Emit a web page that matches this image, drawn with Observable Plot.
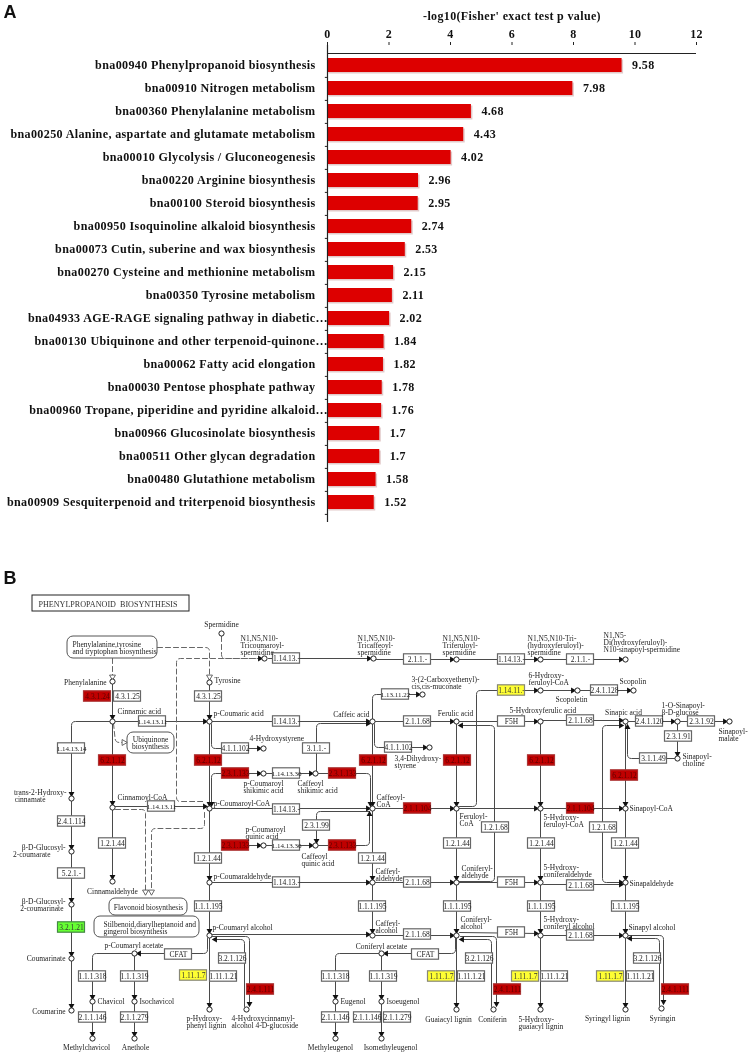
<!DOCTYPE html>
<html>
<head>
<meta charset="utf-8">
<script src="https://cdn.jsdelivr.net/npm/d3@7"></script>
<script src="https://cdn.jsdelivr.net/npm/@observablehq/plot@0.6"></script>
<style>
html,body{margin:0;padding:0;background:#fff}
svg{display:block;filter:blur(.35px)}
#a svg text{letter-spacing:.35px}
</style>
</head>
<body>
<div id="a"></div>
<div id="b"></div>
<script>
// ---------- Panel A ----------
const pathways = ["bna00940 Phenylpropanoid biosynthesis","bna00910 Nitrogen metabolism","bna00360 Phenylalanine metabolism","bna00250 Alanine, aspartate and glutamate metabolism","bna00010 Glycolysis / Gluconeogenesis","bna00220 Arginine biosynthesis","bna00100 Steroid biosynthesis","bna00950 Isoquinoline alkaloid biosynthesis","bna00073 Cutin, suberine and wax biosynthesis","bna00270 Cysteine and methionine metabolism","bna00350 Tyrosine metabolism","bna04933 AGE-RAGE signaling pathway in diabetic","bna00130 Ubiquinone and other terpenoid-quinone","bna00062 Fatty acid elongation","bna00030 Pentose phosphate pathway","bna00960 Tropane, piperidine and pyridine alkaloid","bna00966 Glucosinolate biosynthesis","bna00511 Other glycan degradation","bna00480 Glutathione metabolism","bna00909 Sesquiterpenoid and triterpenoid biosynthesis"];
const scores = [9.58,7.98,4.68,4.43,4.02,2.96,2.95,2.74,2.53,2.15,2.11,2.02,1.84,1.82,1.78,1.76,1.7,1.7,1.58,1.52];
const truncated = ["bna04933 AGE-RAGE signaling pathway in diabetic","bna00130 Ubiquinone and other terpenoid-quinone","bna00960 Tropane, piperidine and pyridine alkaloid"];
const xTicks = [0,2,4,6,8,10,12];

const rows = pathways.map((name,i)=>({name,score:scores[i]}));
const serif = "'Liberation Serif','Times New Roman',serif";

const chartA = Plot.plot({
  width:748,height:530,marginLeft:327,marginRight:52,marginTop:45,marginBottom:8,
  style:{fontFamily:serif,background:"#fff"},
  x:{domain:[0,12],axis:null},
  y:{domain:pathways,axis:null,paddingInner:0.37,paddingOuter:0.185},
  marks:[
    Plot.barX(rows,{x:"score",y:"name",fill:"#e2c9c9",dx:1.5,dy:1.5}),
    Plot.barX(rows,{x:"score",y:"name",fill:"#dd0000"}),
    Plot.ruleX([0],{stroke:"#222",strokeWidth:1.2}),
    Plot.ruleY([0],{y:()=>pathways[0],x1:0,x2:12,dy:-12,stroke:"#222",strokeWidth:1.2}),
    Plot.ruleY(pathways,{y:d=>d,x1:-0.07,x2:0,dy:11.9,stroke:"#222"}),
    Plot.axisX({anchor:"top",ticks:xTicks,tickSize:3,tickPadding:4,tickFormat:d=>String(d),fontSize:12,fontWeight:"bold",label:null,stroke:"#222",fill:"#111",dy:-1}),
    Plot.text(rows,{x:0,y:"name",text:"name",dx:-12,textAnchor:"end",fontSize:12.1,fontWeight:"bold",fill:"#111"}),
    Plot.text(truncated,{x:0,y:d=>d,text:()=>"…",dx:-12,textAnchor:"start",fontSize:12.1,fontWeight:"bold",fill:"#111"}),
    Plot.text(rows,{x:"score",y:"name",text:d=>String(d.score),dx:10,textAnchor:"start",fontSize:12,fontWeight:"bold",fill:"#111"}),
    Plot.text(["-log10(Fisher' exact test p value)"],{frameAnchor:"top",dy:-29,lineAnchor:"middle",fontSize:12,fontWeight:"bold",fill:"#111"}),
    Plot.text(["A"],{frameAnchor:"top-left",dx:-324,dy:-33,lineAnchor:"middle",textAnchor:"start",fontFamily:"'Liberation Sans',sans-serif",fontWeight:"bold",fontSize:18,fill:"#111"})
  ]
});
document.getElementById("a").append(chartA);

// ---------- Panel B ----------
const mapTitle = ["PHENYLPROPANOID  BIOSYNTHESIS"];
const titleBox = [[32,595,189,611]];
const pathwayBoxes = [[67,636,157,658],[127,732,174,753],[109,898,187,915],[94,916,199,937]];

const whiteEnzymes = [["1.14.13.-",286,658],["2.1.1.-",417,659],["1.14.13.-",511,659],["2.1.1.-",580,659],["1.13.11.22",395,694],["2.4.1.128",604,690],
["4.3.1.25",127,696],["4.3.1.25",208,696],["1.14.13.11",152,721],["1.14.13.-",286,721],["2.1.1.68",417,721],["F5H",511,721],["2.1.1.68",580,720],["2.4.1.120",649,721],["2.3.1.92",701,721],["2.3.1.91",678,736],
["1.14.13.14",71,748],["4.1.1.102",235,748],["3.1.1.-",316,748],["4.1.1.102",398,747],["3.1.1.49",653,758],["1.14.13.36",286,773],["1.14.13.11",161,806],["1.14.13.-",286,809],
["2.4.1.114",71,821],["2.3.1.99",316,825],["1.2.1.68",495,827],["1.2.1.68",603,827],["1.2.1.44",112,843],["1.14.13.36",286,845],["1.2.1.44",457,843],["1.2.1.44",541,843],["1.2.1.44",625,843],["1.2.1.44",208,858],["1.2.1.44",372,858],
["5.2.1.-",71,873],["1.14.13.-",286,882],["2.1.1.68",417,882],["F5H",511,882],["2.1.1.68",580,885],["1.1.1.195",208,906],["1.1.1.195",372,906],["1.1.1.195",457,906],["1.1.1.195",541,906],["1.1.1.195",625,906],
["2.1.1.68",417,934],["F5H",511,932],["2.1.1.68",580,935],["CFAT",178,954],["CFAT",425,954],["3.2.1.126",232,958],["3.2.1.126",479,958],["3.2.1.126",647,958],
["1.1.1.318",92,976],["1.1.1.319",134,976],["1.11.1.21",223,976],["1.1.1.318",335,976],["1.1.1.319",383,976],["1.11.1.21",471,976],["1.11.1.21",554,976],["1.11.1.21",640,976],
["2.1.1.146",92,1017],["2.1.1.279",134,1017],["2.1.1.146",335,1017],["2.1.1.146",367,1017],["2.1.1.279",397,1017]];
const redEnzymes = [["4.3.1.24",97,696],["6.2.1.12",112,760],["6.2.1.12",208,760],["6.2.1.12",373,760],["6.2.1.12",457,760],["6.2.1.12",541,760],["6.2.1.12",624,775],["2.3.1.133",235,773],["2.3.1.133",342,773],["2.3.1.133",235,845],["2.3.1.133",342,845],["2.1.1.104",417,808],["2.1.1.104",580,808],["2.4.1.111",260,989],["2.4.1.111",507,989],["2.4.1.111",675,989]];
const yellowEnzymes = [["1.14.11.-",511,690],["1.11.1.7",193,975],["1.11.1.7",441,976],["1.11.1.7",525,976],["1.11.1.7",610,976]];
const greenEnzymes = [["3.2.1.21",71,927]];

const compounds = [[221,633],[264,658],[373,658],[456,659],[540,659],[625,659],[422,694],[540,690],[577,690],[633,690],[112,681],[209,682],[112,721],[209,721],[372,721],[456,721],[540,721],[625,721],[677,721],[729,721],[263,748],[429,747],[677,758],[263,773],[315,773],[71,798],[112,807],[209,808],[372,808],[456,808],[540,808],[625,808],[263,845],[315,845],[71,851],[112,881],[209,882],[372,882],[456,882],[540,882],[625,882],[71,904],[209,935],[372,935],[456,935],[540,935],[625,935],[134,953],[381,953],[71,958],[92,1001],[134,1001],[335,1001],[381,1001],[209,1009],[246,1009],[456,1009],[493,1009],[540,1009],[625,1009],[661,1008],[71,1010],[92,1038],[134,1038],[335,1038],[381,1038]];

const labelsStart = [["N1,N5,N10-",240,638],["Tricoumaroyl-",240,645],["spermidine",240,652],["N1,N5,N10-",357,638],["Tricaffeoyl-",357,645],["spermidine",357,652],["N1,N5,N10-",442,638],["Triferuloyl-",442,645],["spermidine",442,652],["N1,N5,N10-Tri-",527,638],["(hydroxyferuloyl)-",527,645],["spermidine",527,652],["N1,N5-",603,635],["Di(hydroxyferuloyl)-",603,642],["N10-sinapoyl-spermidine",603,649],
["6-Hydroxy-",528,675],["feruloyl-CoA",528,682],["Scopolin",619,681],["Scopoletin",555,699],["3-(2-Carboxyethenyl)-",411,679],["cis,cis-muconate",411,686],["Tyrosine",214,680],["Cinnamic acid",117,711],["p-Coumaric acid",213,713],["5-Hydroxyferulic acid",509,710],["1-O-Sinapoyl-",661,705],["β-D-glucose",661,712],["Sinapoyl-",718,731],["malate",718,738],["4-Hydroxystyrene",249,738],["Sinapoyl-",682,756],["choline",682,763],["3,4-Dihydroxy-",394,758],["styrene",394,765],["Caffeoyl",297,783],["shikimic acid",297,790],["Cinnamoyl-CoA",117,797],["p-Coumaroyl-CoA",213,803],["Caffeoyl-",376,797],["CoA",376,804],["Sinapoyl-CoA",629,808],["Feruloyl-",459,816],["CoA",459,823],["5-Hydroxy-",543,817],["feruloyl-CoA",543,824],["p-Coumaroyl",245,829],["quinic acid",245,836],["Caffeoyl",301,856],["quinic acid",301,863],["Caffeyl-",375,871],["aldehyde",375,878],["Coniferyl-",461,868],["aldehyde",461,875],["5-Hydroxy-",543,867],["coniferaldehyde",543,874],["p-Coumaraldehyde",213,876],["Sinapaldehyde",629,883],["Coniferyl-",460,919],["alcohol",460,926],["Caffeyl-",375,923],["alcohol",375,930],["5-Hydroxy-",543,919],["coniferyl alcohol",543,926],["p-Coumaryl alcohol",212,927],["Sinapyl alcohol",628,927],["p-Coumaryl acetate",104,945],["Chavicol",97,1001],["Isochavicol",139,1001],["Eugenol",340,1001],["Isoeugenol",386,1001],["p-Hydroxy-",186,1018],["phenyl lignin",186,1025],["4-Hydroxycinnamyl-",231,1018],["alcohol 4-D-glucoside",231,1025],["5-Hydroxy-",518,1019],["guaiacyl lignin",518,1026],
["Phenylalanine,tyrosine",72,644],["and tryptophan biosynthesis",72,651],["Stilbenoid,diarylheptanoid and",103,924],["gingerol biosynthesis",103,931]];
const labelsEnd = [["Phenylalanine",106,682],["Caffeic acid",369,714],["trans-2-Hydroxy-",66,792],["cinnamate",45,799],["β-D-Glucosyl-",65,847],["2-coumarate",50,854],["β-D-Glucosyl-",65,901],["2-coumarinate",63,908],["Coumarinate",65,958],["Coumarine",65,1011]];
const labelsMiddle = [["Spermidine",221,624],["Ferulic acid",455,713],["Sinapic acid",623,712],["Ubiquinone",150,739],["biosynthesis",150,746],["p-Coumaroyl",263,783],["shikimic acid",263,790],["Cinnamaldehyde",112,891],["Flavonoid biosynthesis",148,907],["Coniferyl acetate",381,946],["Methylchavicol",86,1047],["Anethole",135,1047],["Methyleugenol",330,1047],["Isomethyleugenol",390,1047],["Guaiacyl lignin",448,1019],["Coniferin",492,1019],["Syringyl lignin",607,1018],["Syringin",662,1018]];

const arrowPaths = [
[[268,658],[370,658]],[[376,659],[453,659]],[[459,659],[537,659]],[[543,659],[622,659]],
[[459,806],[476,806],[476,690],[537,690]],[[543,690],[574,690]],[[580,690],[630,690]],
[[372,718],[372,694],[419,694]],
[[115,721],[206,721]],[[212,721],[369,721]],[[375,721],[453,721]],[[459,721],[537,721]],[[543,720],[622,720]],[[628,721],[674,721]],[[680,721],[726,721]],
[[109,721],[71,721],[71,795]],[[71,801],[71,848]],[[71,854],[71,901]],[[71,907],[71,955]],[[71,961],[71,1007]],
[[112,684],[112,718]],[[112,724],[112,804]],[[112,810],[112,878]],
[[115,806],[206,806]],
[[209,685],[209,718]],[[209,724],[209,805]],[[209,811],[209,879]],[[209,885],[209,932]],[[209,938],[209,1006]],
[[212,808],[369,808]],[[212,882],[369,882]],[[212,934],[369,934]],
[[372,724],[372,805]],[[372,811],[372,879]],[[372,885],[372,932]],
[[355,845],[369,845],[369,812]],[[355,773],[370,773],[370,805]],
[[316,770],[316,723],[369,723]],
[[374,724],[374,747],[426,747]],
[[211,724],[211,748],[260,748]],
[[222,773],[211,773],[211,805]],
[[222,773],[260,773]],[[222,845],[260,845]],[[266,773],[312,773]],[[266,845],[312,845]],
[[369,811],[316,811],[316,842]],
[[375,808],[453,808]],[[459,808],[537,808]],[[543,808],[622,808]],
[[456,724],[456,805]],[[456,811],[456,879]],[[456,885],[456,932]],[[456,938],[456,1006]],
[[540,724],[540,805]],[[540,811],[540,879]],[[540,885],[540,932]],[[540,938],[540,1006]],
[[625,724],[625,805]],[[625,811],[625,879]],[[625,885],[625,932]],[[625,938],[625,1006]],
[[653,758],[627,758],[627,725]],
[[375,882],[453,882]],[[459,882],[537,882]],[[543,884],[622,884]],
[[459,881],[494,881],[494,725],[459,725]],
[[602,827],[602,725],[622,725]],[[602,827],[602,882],[622,882]],
[[375,935],[453,935]],[[459,932],[537,933]],[[543,935],[622,935]],
[[207,938],[207,953],[137,953]],[[455,938],[455,953],[384,953]],
[[131,953],[92,953],[92,998]],[[134,956],[134,998]],[[92,1004],[92,1035]],[[134,1004],[134,1035]],
[[378,953],[335,953],[335,998]],[[381,956],[381,998]],[[335,1004],[335,1035]],[[381,1004],[381,1035]],
[[244,1006],[244,939],[213,939]],[[212,936],[249,936],[249,1005]],
[[491,1006],[491,939],[460,939]],[[460,936],[496,936],[496,1005]],
[[659,1005],[659,938],[628,938]],[[628,935],[663,935],[663,1003]],
[[677,724],[677,755]]];
const plainPaths = [[[318,773],[355,773]],[[318,845],[355,845]],[[653,758],[674,758]]];
const dashedArrowPaths = [[[112,658],[112,678]],[[157,647],[209,647],[209,678]],[[113,723],[115,742],[125,742]],[[115,809],[145,809],[145,893]],[[204,812],[204,828],[151,828],[151,893]]];
const dashedPaths = [[[221,636],[221,658],[261,658]],[[255,658],[176,658],[176,801],[204,801]]];
const solidTipOnDashed = [[[250,658],[261,658]]];

// rounds the corners of a polyline for drawing
function rounded(pts,r=4){
  const out=[pts[0]];
  for(let i=1;i<pts.length-1;i++){
    const [p,q,n]=[pts[i-1],pts[i],pts[i+1]];
    const d1=Math.hypot(q[0]-p[0],q[1]-p[1]),d2=Math.hypot(n[0]-q[0],n[1]-q[1]);
    const a=Math.min(r,d1/2)/d1,b=Math.min(r,d2/2)/d2;
    const s=[q[0]+(p[0]-q[0])*a,q[1]+(p[1]-q[1])*a],e=[q[0]+(n[0]-q[0])*b,q[1]+(n[1]-q[1])*b];
    for(let t=0;t<=1;t+=0.25){const u=1-t;out.push([u*u*s[0]+2*u*t*q[0]+t*t*e[0],u*u*s[1]+2*u*t*q[1]+t*t*e[1]]);}
  }
  out.push(pts[pts.length-1]);
  return out;
}
const flat=(paths)=>paths.flatMap((pts,id)=>rounded(pts).map(p=>({id,x:p[0],y:p[1]})));
const tips=(paths)=>paths.map(pts=>{
  const q=pts[pts.length-1],p=pts[pts.length-2];
  const a=Math.atan2(q[1]-p[1],q[0]-p[0]);
  return {x:q[0]-1.7*Math.cos(a),y:q[1]-1.7*Math.sin(a),rotate:a*180/Math.PI+90};
});
const W=13.5,H=5.2;
const boxMark=(data,fill,stroke)=>Plot.rect(data,{x1:d=>d[1]-W,x2:d=>d[1]+W,y1:d=>d[2]-H,y2:d=>d[2]+H,fill,stroke,strokeWidth:1.2});
const boxText=(data,fill)=>Plot.text(data,{x:d=>d[1],y:d=>d[2],text:d=>d[0],fill,fontSize:d=>d[0].length>=10?7:7.5,textAnchor:"middle",lineAnchor:"middle"});
const lab=(data,textAnchor)=>Plot.text(data,{x:d=>d[1],y:d=>d[2],text:d=>d[0],textAnchor,lineAnchor:"middle",fontSize:7.5,fill:"#222"});

const chartB = Plot.plot({
  width:748,height:524,margin:0,
  style:{fontFamily:serif,background:"#fff"},
  x:{domain:[0,748],axis:null},
  y:{domain:[530,1054],range:[0,524],axis:null},
  marks:[
    Plot.text(["B"],{x:3,y:578,textAnchor:"start",lineAnchor:"middle",fontFamily:"'Liberation Sans',sans-serif",fontWeight:"bold",fontSize:18,fill:"#111"}),
    Plot.rect(titleBox,{x1:d=>d[0],y1:d=>d[1],x2:d=>d[2],y2:d=>d[3],fill:"#fff",stroke:"#222",strokeWidth:1}),
    Plot.text(mapTitle,{x:107.5,y:603.5,textAnchor:"middle",lineAnchor:"middle",fontSize:8.1,fill:"#333"}),
    Plot.line(flat(plainPaths.concat(arrowPaths)),{x:"x",y:"y",z:"id",stroke:"#4a4a4a",strokeWidth:1,curve:"linear"}),
    Plot.line(flat(dashedPaths.concat(dashedArrowPaths)),{x:"x",y:"y",z:"id",stroke:"#666",strokeWidth:1,strokeDasharray:"5,3",curve:"linear"}),
    Plot.rect(pathwayBoxes,{x1:d=>d[0],y1:d=>d[1],x2:d=>d[2],y2:d=>d[3],fill:"#fff",stroke:"#555",strokeWidth:1,rx:6}),
    boxMark(whiteEnzymes,"#fff","#666"),
    boxMark(redEnzymes,"#c00000","#a33"),
    boxMark(yellowEnzymes,"#ffff33","#887"),
    boxMark(greenEnzymes,"#66ff33","#484"),
    boxText(whiteEnzymes,"#222"),
    boxText(redEnzymes,"#5a0000"),
    boxText(yellowEnzymes,"#333"),
    boxText(greenEnzymes,"#333"),
    lab(labelsStart,"start"),
    lab(labelsEnd,"end"),
    lab(labelsMiddle,"middle"),
    Plot.dot(tips(arrowPaths.concat(solidTipOnDashed)),{x:"x",y:"y",rotate:"rotate",symbol:"triangle",r:2.2,fill:"#111",stroke:"none"}),
    Plot.dot(tips(dashedArrowPaths),{x:"x",y:"y",rotate:"rotate",symbol:"triangle",r:2.2,fill:"#fff",stroke:"#444",strokeWidth:0.8}),
    Plot.dot(compounds,{x:d=>d[0],y:d=>d[1],r:2.6,fill:"#fff",stroke:"#222",strokeWidth:1})
  ]
});
document.getElementById("b").append(chartB);
</script>
</body>
</html>
